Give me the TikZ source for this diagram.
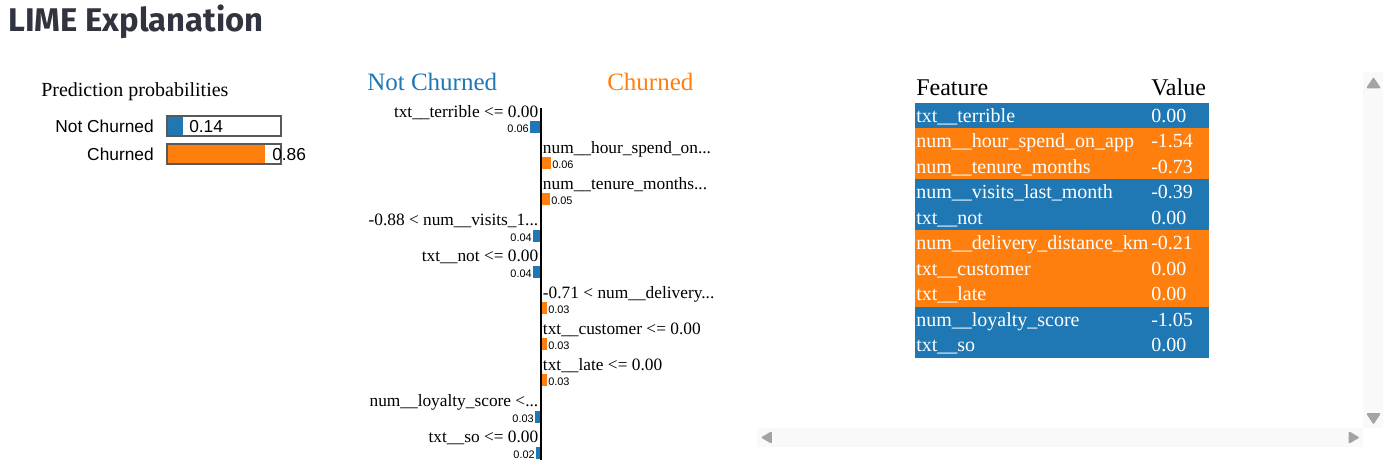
\documentclass[tikz,border=0pt]{standalone}
\usepackage{fontspec}
\setmainfont{Liberation Serif}
\newfontfamily\uisans{Liberation Sans}
\newfontfamily\headfont{Fira Sans}
\usetikzlibrary{positioning}
\definecolor{limeblue}{HTML}{1F77B4}
\definecolor{limeorange}{HTML}{FF7F0E}
\definecolor{headgray}{HTML}{31333F}
\definecolor{scrolltrack}{HTML}{F9F9F9}
\definecolor{scrollarrow}{HTML}{A3A3A3}

\begin{document}
\begin{tikzpicture}[x=0.75pt, y=-0.75pt, inner sep=0pt,
	featL/.style={anchor=base east, font=\fontsize{13}{15}\selectfont},
	featR/.style={anchor=base west, font=\fontsize{13}{15}\selectfont},
	weight/.style={font=\uisans\fontsize{8.2}{9}\selectfont},
	cell/.style={anchor=base west, text=white, font=\fontsize{15}{17}\selectfont},
	probname/.style={anchor=base east, font=\uisans\fontsize{13}{15}\selectfont},
	probbox/.style={draw=black!65, line width=1.5pt},
	scrollbtn/.style={fill=scrollarrow, draw=scrollarrow, line join=round, line width=1.2pt}]

	\useasboundingbox (0,0) rectangle (1391,467);

	% title
	\node[anchor=base west, text=headgray, font=\headfont\bfseries\fontsize{24.6}{28}\selectfont] (title) at (8,32) {LIME Explanation};

	% prediction probabilities
	\node[anchor=base west, font=\fontsize{15}{17}\selectfont] (predhead) at (41,96.7) {Prediction probabilities};
	\fill[limeblue] (167,116.3) rectangle (183,136.3);
	\fill[limeorange] (167,143.7) rectangle (265,164);
	\draw[probbox] (167,116.3) rectangle (281,136.3);
	\draw[probbox] (167,143.7) rectangle (281,164);
	\node[probname] (pnot) at (154,132.7) {Not Churned};
	\node[probname] (pchu) at (154,160.7) {Churned};
	\node[anchor=base west, font=\uisans\fontsize{13}{15}\selectfont] (pnotval) at (189,132.7) {0.14};
	\node[anchor=base west, font=\uisans\fontsize{13}{15}\selectfont] (pchuval) at (272,160.7) {0.86};

	% explanation bars
	\node[anchor=base west, text=limeblue, font=\fontsize{18.75}{21}\selectfont] (notchurned) at (367,90.7) {Not Churned};
	\node[anchor=base west, text=limeorange, font=\fontsize{18.75}{21}\selectfont] (churned) at (607,90.7) {Churned};
	\coordinate (axtop) at (541,108);
	\coordinate (axbot) at (541,460);
	\draw[line width=1.9pt] (axtop) -- (axbot);

	\foreach \i/\w/\v/\t in {1/10/0.06/{txt\_\_terrible <= 0.00},
			4/7/0.04/{-0.88 < num\_\_visits\_1...},
			5/7/0.04/{txt\_\_not <= 0.00},
			9/5/0.03/{num\_\_loyalty\_score <...},
			10/4/0.02/{txt\_\_so <= 0.00}}{
		\pgfmathsetmacro\yb{117+36.2*(\i-1)}
		\node[featL] (lbl\i) at (538.5,\yb) {\t};
		\fill[limeblue] (540-\w,\yb+4) rectangle (540,\yb+16);
		\node[weight, anchor=base east] (val\i) at (539-\w,\yb+15.5) {\v};
	}
	\foreach \i/\w/\v/\t in {2/9/0.06/{num\_\_hour\_spend\_on...},
			3/8/0.05/{num\_\_tenure\_months...},
			6/5/0.03/{-0.71 < num\_\_delivery...},
			7/5/0.03/{txt\_\_customer <= 0.00},
			8/5/0.03/{txt\_\_late <= 0.00}}{
		\pgfmathsetmacro\yb{117+36.2*(\i-1)}
		\node[featR] (lbl\i) at (542.7,\yb) {\t};
		\fill[limeorange] (542,\yb+4) rectangle (542+\w,\yb+16);
		\node[weight, anchor=base west] (val\i) at (543+\w,\yb+15.5) {\v};
	}

	% feature table
	\node[anchor=base west, font=\fontsize{18}{20}\selectfont] (feathead) at (916,95) {Feature};
	\node[anchor=base west, font=\fontsize{18}{20}\selectfont] (valhead) at (1151,95) {Value};
	\foreach \i/\c/\f/\v in {1/limeblue/{txt\_\_terrible}/0.00,
			2/limeorange/{num\_\_hour\_spend\_on\_app}/-1.54,
			3/limeorange/{num\_\_tenure\_months}/-0.73,
			4/limeblue/{num\_\_visits\_last\_month}/-0.39,
			5/limeblue/{txt\_\_not}/0.00,
			6/limeorange/{num\_\_delivery\_distance\_km}/-0.21,
			7/limeorange/{txt\_\_customer}/0.00,
			8/limeorange/{txt\_\_late}/0.00,
			9/limeblue/{num\_\_loyalty\_score}/-1.05,
			10/limeblue/{txt\_\_so}/0.00}{
		\pgfmathsetmacro\yt{103+25.45*(\i-1)}
		\fill[\c] (915,\yt) rectangle (1209,\yt+25.45);
		\node[cell] (feat\i) at (916,\yt+19.5) {\f};
		\node[cell] (fval\i) at (1151,\yt+19.5) {\v};
	}

	% scroll bars
	\fill[scrolltrack] (1363,72) rectangle (1383,428);
	\fill[scrolltrack] (757,428) rectangle (1363,447);
	\filldraw[scrollbtn] (1367.5,87.5) -- (1373.5,78.5) -- (1379.5,87.5) -- cycle;
	\filldraw[scrollbtn] (1367.5,414) -- (1373.5,423) -- (1379.5,414) -- cycle;
	\filldraw[scrollbtn] (1349.5,432.5) -- (1358,437.5) -- (1349.5,442.5) -- cycle;
	\filldraw[scrollbtn] (771,432.5) -- (762.5,437.5) -- (771,442.5) -- cycle;
\end{tikzpicture}
\end{document}
